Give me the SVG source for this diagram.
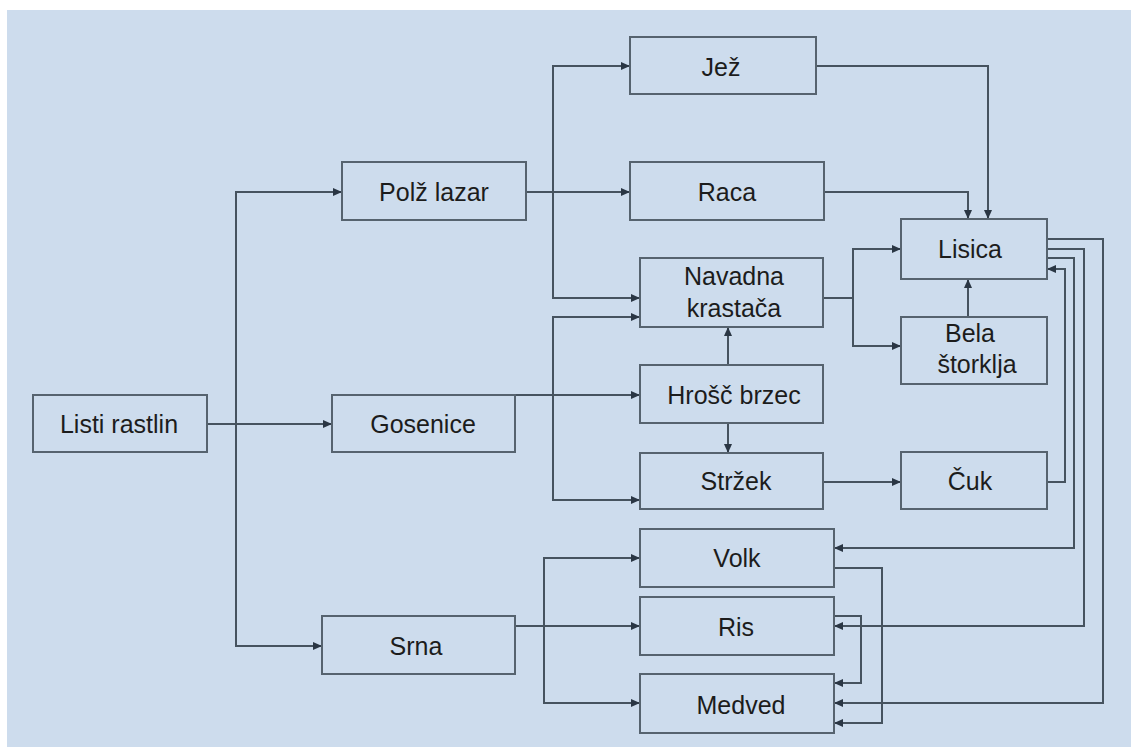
<svg xmlns="http://www.w3.org/2000/svg" width="1131" height="747" viewBox="0 0 1131 747">
<defs>
<marker id="ah" markerUnits="userSpaceOnUse" markerWidth="9" markerHeight="8" refX="9" refY="4" orient="auto">
<path d="M0,0 L9,4 L0,8 z" fill="#2a3644"/>
</marker>
<style>
.box{fill:#cddced;stroke:#56636f;stroke-width:2}
.lbl{font-family:"Liberation Sans",Arial,sans-serif;font-size:25px;fill:#1c1c1c;text-anchor:middle}
.c{fill:none;stroke:#46535f;stroke-width:2}
.a{marker-end:url(#ah)}
</style>
</defs>
<rect x="0" y="0" width="1131" height="747" fill="#ffffff"/>
<rect x="7" y="10" width="1124" height="737" fill="#cddced"/>
<g id="connectors">
<path class="c a" d="M207,424 H332"/>
<path class="c a" d="M236,424 V192 H342"/>
<path class="c a" d="M236,424 V646 H322"/>
<path class="c a" d="M526,192 H630"/>
<path class="c a" d="M553,192 V66 H630"/>
<path class="c a" d="M553,192 V298 H640"/>
<path class="c a" d="M515,395 H640"/>
<path class="c a" d="M553,395 V317 H640"/>
<path class="c a" d="M553,395 V500 H640"/>
<path class="c a" d="M728,365 V327"/>
<path class="c a" d="M728,423 V453"/>
<path class="c a" d="M816,66 H988 V219"/>
<path class="c a" d="M824,192 H968 V219"/>
<path class="c a" d="M823,298 H853 V249 H901"/>
<path class="c a" d="M853,298 V346 H901"/>
<path class="c a" d="M968,317 V279"/>
<path class="c a" d="M823,482 H901"/>
<path class="c a" d="M1047,482 H1065 V269 H1047"/>
<path class="c a" d="M1047,258 H1074 V548 H834"/>
<path class="c a" d="M1047,249 H1084 V626 H834"/>
<path class="c a" d="M1047,239 H1103 V703 H834"/>
<path class="c a" d="M515,626 H640"/>
<path class="c a" d="M544,626 V558 H640"/>
<path class="c a" d="M544,626 V703 H640"/>
<path class="c a" d="M834,568 H882 V723 H834"/>
<path class="c a" d="M834,616 H861 V683 H834"/>
</g>
<g id="listi"><rect class="box" x="33" y="395" width="174" height="57"/><text class="lbl" x="119" y="433">Listi rastlin</text></g>
<g id="gosenice"><rect class="box" x="332" y="395" width="183" height="57"/><text class="lbl" x="423" y="433">Gosenice</text></g>
<g id="srna"><rect class="box" x="322" y="616" width="193" height="58"/><text class="lbl" x="416" y="655">Srna</text></g>
<g id="polz"><rect class="box" x="342" y="162" width="184" height="58"/><text class="lbl" x="434" y="201">Polž lazar</text></g>
<g id="jez"><rect class="box" x="630" y="37" width="186" height="57"/><text class="lbl" x="721" y="76">Jež</text></g>
<g id="raca"><rect class="box" x="630" y="162" width="194" height="58"/><text class="lbl" x="727" y="201">Raca</text></g>
<g id="krastaca"><rect class="box" x="640" y="258" width="183" height="69"/><text class="lbl" x="734" y="285">Navadna</text><text class="lbl" x="734" y="317">krastača</text></g>
<g id="hrosc"><rect class="box" x="640" y="365" width="183" height="58"/><text class="lbl" x="734" y="404">Hrošč brzec</text></g>
<g id="strzek"><rect class="box" x="640" y="453" width="183" height="56"/><text class="lbl" x="736" y="490">Stržek</text></g>
<g id="lisica"><rect class="box" x="901" y="219" width="146" height="60"/><text class="lbl" x="970" y="258">Lisica</text></g>
<g id="storklja"><rect class="box" x="901" y="317" width="146" height="67"/><text class="lbl" x="970" y="342">Bela</text><text class="lbl" x="977" y="373">štorklja</text></g>
<g id="cuk"><rect class="box" x="901" y="452" width="146" height="57"/><text class="lbl" x="970" y="490">Čuk</text></g>
<g id="volk"><rect class="box" x="640" y="529" width="194" height="58"/><text class="lbl" x="737" y="567">Volk</text></g>
<g id="ris"><rect class="box" x="640" y="597" width="194" height="58"/><text class="lbl" x="736" y="636">Ris</text></g>
<g id="medved"><rect class="box" x="640" y="674" width="194" height="59"/><text class="lbl" x="741" y="714">Medved</text></g>
</svg>
